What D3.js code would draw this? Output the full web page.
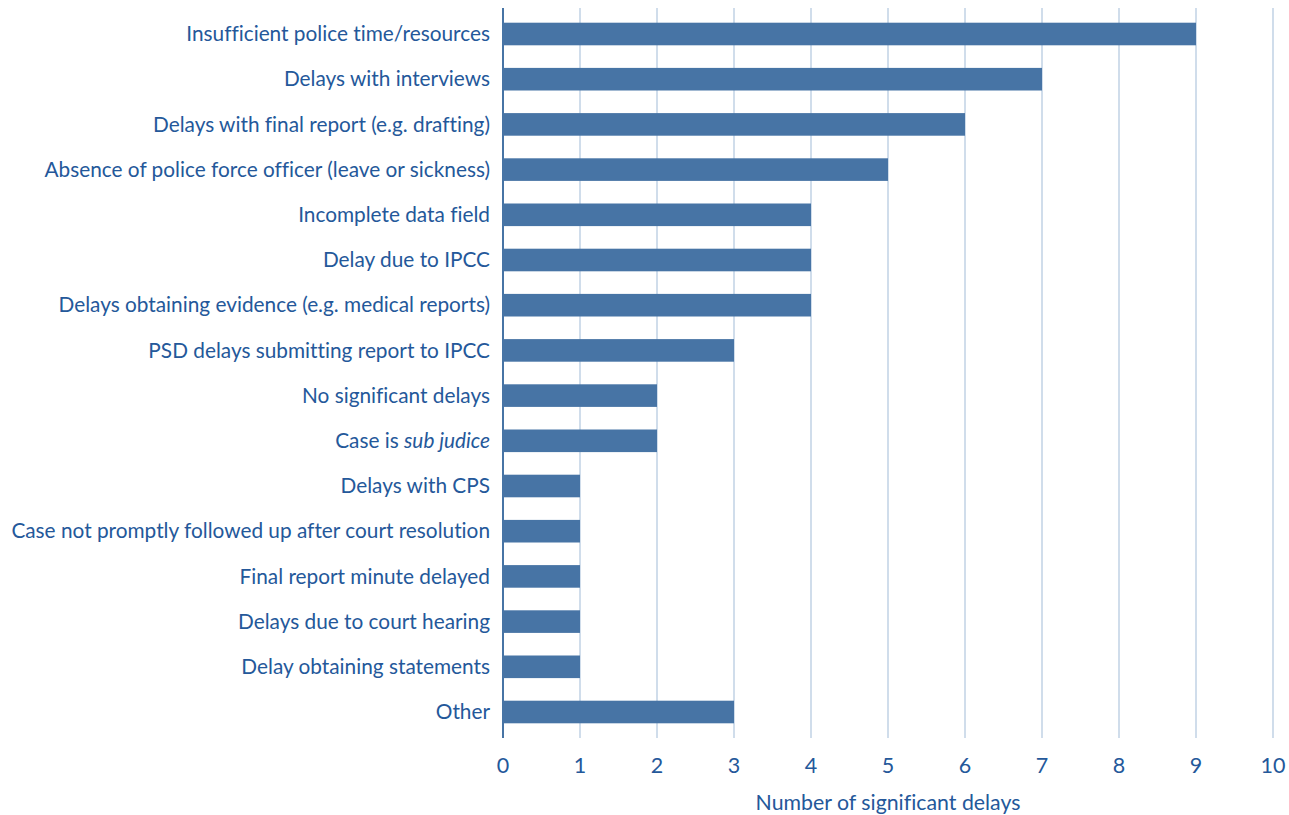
<!DOCTYPE html>
<html><head><meta charset="utf-8">
<script src="https://cdn.jsdelivr.net/npm/d3@7/dist/d3.min.js"></script>
<style>body{margin:0;background:#fff;} svg{display:block;} text{font-variant-ligatures:none;}</style>
</head><body>
<svg id="chart" width="1289" height="815"></svg>
<script>
const categories = [
  "Insufficient police time/resources",
  "Delays with interviews",
  "Delays with final report (e.g. drafting)",
  "Absence of police force officer (leave or sickness)",
  "Incomplete data field",
  "Delay due to IPCC",
  "Delays obtaining evidence (e.g. medical reports)",
  "PSD delays submitting report to IPCC",
  "No significant delays",
  "Case is sub judice",
  "Delays with CPS",
  "Case not promptly followed up after court resolution",
  "Final report minute delayed",
  "Delays due to court hearing",
  "Delay obtaining statements",
  "Other"
];
const values = [9, 7, 6, 5, 4, 4, 4, 3, 2, 2, 1, 1, 1, 1, 1, 3];
const tickValues = [0,1,2,3,4,5,6,7,8,9,10];
const axisTitle = "Number of significant delays";

const svg = d3.select("#chart");
const textColor = "#24589a";
const font = "Lato, 'Open Sans', sans-serif";
const plotLeft = 503, plotRight = 1273, plotTop = 8, plotBottom = 738;

const x = d3.scaleLinear().domain([0, 10]).range([plotLeft, plotRight]);
const y = d3.scaleBand().domain(categories).range([11.4, 734.6]).paddingInner(0.5).paddingOuter(0.25);

// gridlines
svg.append("g").selectAll("line").data(tickValues.filter(d => d > 0)).join("line")
  .attr("x1", d => x(d)).attr("x2", d => x(d))
  .attr("y1", plotTop).attr("y2", plotBottom)
  .attr("stroke", "#b7cbe0").attr("stroke-width", 1.3);

// bars
svg.append("g").selectAll("rect").data(categories).join("rect")
  .attr("x", x(0)).attr("y", d => y(d))
  .attr("width", (d, i) => x(values[i]) - x(0))
  .attr("height", y.bandwidth())
  .attr("fill", "#4774a5");

// axis line
svg.append("line").attr("x1", x(0)).attr("x2", x(0)).attr("y1", plotTop).attr("y2", plotBottom)
  .attr("stroke", "#4774a5").attr("stroke-width", 2);

// category labels
const labels = svg.append("g").selectAll("text").data(categories).join("text")
  .attr("x", plotLeft - 13).attr("y", d => y(d) + y.bandwidth() / 2)
  .attr("dy", "0.35em").attr("text-anchor", "end")
  .attr("fill", textColor).attr("font-family", font).attr("font-size", 20.8);
labels.each(function(d) {
  const t = d3.select(this);
  if (d === "Case is sub judice") {
    t.append("tspan").text("Case is ");
    t.append("tspan").attr("font-style", "italic").text("sub judice");
  } else t.text(d);
});

// x tick labels
svg.append("g").selectAll("text").data(tickValues).join("text")
  .attr("x", d => x(d)).attr("y", 773)
  .attr("text-anchor", "middle").attr("fill", textColor)
  .attr("font-family", font).attr("font-size", 21.5)
  .text(d => d);

// axis title
svg.append("text").attr("x", x(5)).attr("y", 810).attr("text-anchor", "middle")
  .attr("fill", textColor).attr("font-family", font).attr("font-size", 21.3)
  .text(axisTitle);
</script>
</body></html>
